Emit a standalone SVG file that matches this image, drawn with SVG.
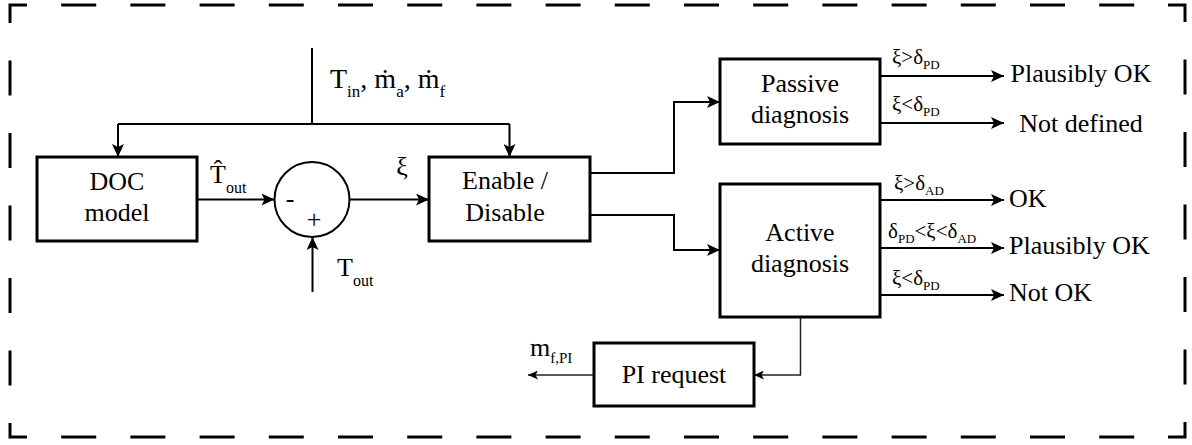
<svg xmlns="http://www.w3.org/2000/svg" width="1192" height="445" viewBox="0 0 1192 445" font-family="Liberation Serif, DejaVu Serif, serif">
  <style>
    text { font-family: "Liberation Serif", "DejaVu Serif", serif; fill: #000; }
    .lbl { font-size: 26px; }
    .big { font-size: 28px; }
    .mid { text-anchor: middle; }
    .sub { font-size: 16px; }
    .sub2 { font-size: 17px; }
    .cond { font-size: 21px; }
    .csub { font-size: 13px; }
    .msub { font-size: 15px; }
    .box { fill: #fff; stroke: #000; stroke-width: 3; }
    .wire { fill: none; stroke: #000; stroke-width: 2; }
    .thin { fill: none; stroke: #222; stroke-width: 1.5; }
    .frame { fill: none; stroke: #000; stroke-width: 3; stroke-linecap: butt; }
  </style>
  <defs>
    <marker id="arrow" markerUnits="userSpaceOnUse" markerWidth="13" markerHeight="12" viewBox="0 0 13 12" refX="13" refY="6" orient="auto">
      <path d="M0,0 L13,6 L0,12 L3,6 Z" fill="#000"/>
    </marker>
    <marker id="arrow-sm" markerUnits="userSpaceOnUse" markerWidth="10" markerHeight="9" viewBox="0 0 10 9" refX="10" refY="4.5" orient="auto">
      <path d="M0,0 L10,4.5 L0,9 L2.5,4.5 Z" fill="#000"/>
    </marker>
  </defs>

  <!-- dashed system boundary -->
  <g id="boundary">
    <path class="frame" d="M27,5 H10 V23"/>
    <path class="frame" d="M1168,5 H1185 V22"/>
    <path class="frame" d="M10,423 V437 H27"/>
    <path class="frame" d="M1185,423 V437 H1168"/>
    <line class="frame" x1="27" y1="5" x2="1168" y2="5" stroke-dasharray="35 34.2" stroke-dashoffset="35"/>
    <line class="frame" x1="27" y1="437" x2="1168" y2="437" stroke-dasharray="35 34.2" stroke-dashoffset="35"/>
    <line class="frame" x1="10" y1="23" x2="10" y2="423" stroke-dasharray="35 37.5" stroke-dashoffset="35"/>
    <line class="frame" x1="1185" y1="22" x2="1185" y2="423" stroke-dasharray="35 37.5" stroke-dashoffset="35"/>
  </g>

  <!-- connectors -->
  <g id="connectors">
    <!-- measured inputs fan out to model and enable logic -->
    <line class="wire" x1="312" y1="48" x2="312" y2="124"/>
    <path class="wire" d="M118,124 H509.5"/>
    <line class="wire" x1="118" y1="124" x2="118" y2="157" marker-end="url(#arrow)"/>
    <line class="wire" x1="509.5" y1="124" x2="509.5" y2="157" marker-end="url(#arrow)"/>
    <!-- model output and measured outlet temperature into the sum -->
    <line class="wire" x1="197" y1="199.5" x2="274.5" y2="199.5" marker-end="url(#arrow)"/>
    <line class="wire" x1="312.5" y1="292" x2="312.5" y2="237" marker-end="url(#arrow)"/>
    <!-- residual into enable/disable -->
    <line class="wire" x1="349.5" y1="199.5" x2="429" y2="199.5" marker-end="url(#arrow)"/>
    <!-- enable/disable to the two diagnoses -->
    <path class="wire" d="M590,173 H674 V102 H720" marker-end="url(#arrow)"/>
    <path class="wire" d="M590,215 H674 V250 H720" marker-end="url(#arrow)"/>
    <!-- passive diagnosis outcomes -->
    <line class="wire" x1="880" y1="76" x2="1004" y2="76" marker-end="url(#arrow)"/>
    <line class="wire" x1="880" y1="123" x2="1004" y2="123" marker-end="url(#arrow)"/>
    <!-- active diagnosis outcomes -->
    <line class="wire" x1="880" y1="200" x2="1004" y2="200" marker-end="url(#arrow)"/>
    <line class="wire" x1="880" y1="248" x2="1004" y2="248" marker-end="url(#arrow)"/>
    <line class="wire" x1="880" y1="295" x2="1004" y2="295" marker-end="url(#arrow)"/>
    <!-- active diagnosis to PI request, PI request output -->
    <path class="thin" d="M800.5,317 V375 H754" marker-end="url(#arrow-sm)"/>
    <line class="thin" x1="594" y1="375" x2="528" y2="375" marker-end="url(#arrow-sm)"/>
  </g>

  <!-- signal labels -->
  <g id="signal-labels">
    <text class="big" x="330" y="88">T<tspan class="sub2" dy="9">in</tspan><tspan dy="-9">, ṁ</tspan><tspan class="sub2" dy="9">a</tspan><tspan dy="-9">, ṁ</tspan><tspan class="sub2" dy="9">f</tspan></text>
    <text class="lbl" x="210" y="183">T&#770;<tspan class="sub" dy="10">out</tspan></text>
    <text class="lbl" x="337" y="276">T<tspan class="sub" dy="10">out</tspan></text>
    <text class="lbl mid" x="402" y="175">ξ</text>
    <text class="lbl mid" x="290" y="207">-</text>
    <text class="lbl mid" x="314" y="228">+</text>
    <text class="lbl" x="530" y="356">m<tspan class="msub" dy="7">f,PI</tspan></text>
  </g>

  <g id="doc-model">
    <rect class="box" x="37" y="157" width="160" height="84"/>
    <text class="lbl mid" x="117" y="190">DOC</text>
    <text class="lbl mid" x="117" y="221">model</text>
  </g>

  <g id="sum">
    <circle cx="312" cy="199.5" r="37.5" fill="none" stroke="#000" stroke-width="2"/>
  </g>

  <g id="enable-disable">
    <rect class="box" x="429" y="157" width="161" height="84"/>
    <text class="lbl mid" x="505" y="189">Enable /</text>
    <text class="lbl mid" x="505" y="221">Disable</text>
  </g>

  <g id="passive-diagnosis">
    <rect class="box" x="720" y="59" width="160" height="85"/>
    <text class="lbl mid" x="800" y="92">Passive</text>
    <text class="lbl mid" x="800" y="123">diagnosis</text>
  </g>

  <g id="active-diagnosis">
    <rect class="box" x="720" y="184" width="160" height="133"/>
    <text class="lbl mid" x="800" y="241">Active</text>
    <text class="lbl mid" x="800" y="272">diagnosis</text>
  </g>

  <g id="pi-request">
    <rect class="box" x="594" y="343" width="160" height="63"/>
    <text class="lbl mid" x="674" y="383">PI request</text>
  </g>

  <!-- outcome conditions and results -->
  <g id="passive-outcomes">
    <text class="cond" x="892" y="64">ξ&gt;δ<tspan class="csub" dy="5">PD</tspan></text>
    <text class="cond" x="892" y="111">ξ&lt;δ<tspan class="csub" dy="5">PD</tspan></text>
    <text class="lbl mid" x="1081" y="82">Plausibly OK</text>
    <text class="lbl mid" x="1081" y="132">Not defined</text>
  </g>

  <g id="active-outcomes">
    <text class="cond" x="894" y="190">ξ&gt;δ<tspan class="csub" dy="5">AD</tspan></text>
    <text class="cond" x="888" y="238">δ<tspan class="csub" dy="5">PD</tspan><tspan dy="-5">&lt;ξ&lt;δ</tspan><tspan class="csub" dy="5">AD</tspan></text>
    <text class="cond" x="892" y="285">ξ&lt;δ<tspan class="csub" dy="5">PD</tspan></text>
    <text class="lbl" x="1009" y="207">OK</text>
    <text class="lbl" x="1009" y="254">Plausibly OK</text>
    <text class="lbl" x="1009" y="301">Not OK</text>
  </g>
</svg>
